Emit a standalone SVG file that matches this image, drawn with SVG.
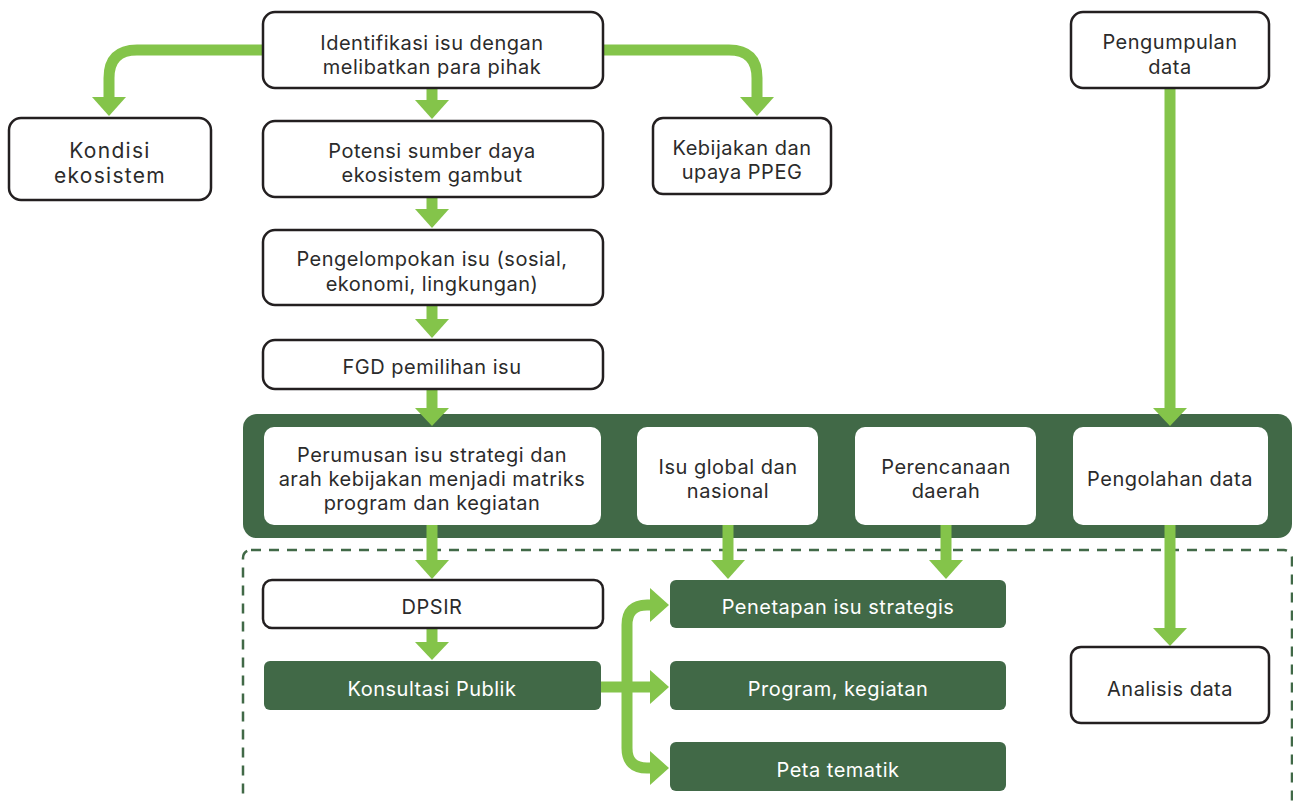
<svg xmlns="http://www.w3.org/2000/svg" width="1293" height="801" viewBox="0 0 1293 801">
<style>
.box{fill:#fff;stroke:#231f20;stroke-width:2.5}
.dk{fill:#416947}
.t{font-family:Inter,"Liberation Sans",sans-serif;font-size:20px;letter-spacing:0.5px;fill:#2b2b2b;text-anchor:middle}
.tk{font-family:Inter,"Liberation Sans",sans-serif;font-size:21px;letter-spacing:1.3px;fill:#2b2b2b;text-anchor:middle}
.tw{font-family:Inter,"Liberation Sans",sans-serif;font-size:20px;letter-spacing:0.5px;fill:#fff;text-anchor:middle}
.ln{fill:none;stroke:#84c44a;stroke-width:11}
.ah{fill:#84c44a}
</style>
<rect width="1293" height="801" fill="#fff"/>
<g id="band"><rect x="243" y="414" width="1049" height="124" rx="14" class="dk"/></g>
<g id="dashed"><rect x="243" y="550" width="1049" height="270" rx="8" fill="none" stroke="#416947" stroke-width="2.5" stroke-dasharray="10 8"/></g>
<g id="connectors">
<path class="ln" d="M263 50 H137 Q109 50 109 78 V98"/>
<polygon class="ah" points="92,97 126,97 109,116"/>
<path class="ln" d="M603 50 H729 Q757 50 757 78 V98"/>
<polygon class="ah" points="740,97 774,97 757,116"/>
<path class="ln" d="M432 88 V102"/>
<polygon class="ah" points="415,100 449,100 432,119"/>
<path class="ln" d="M432 197 V211"/>
<polygon class="ah" points="415,209 449,209 432,228"/>
<path class="ln" d="M432 305 V321"/>
<polygon class="ah" points="415,319 449,319 432,338"/>
<path class="ln" d="M432 389 V410"/>
<polygon class="ah" points="415,408 449,408 432,426"/>
<path class="ln" d="M432 525 V562"/>
<polygon class="ah" points="415,560 449,560 432,579"/>
<path class="ln" d="M432 628 V644"/>
<polygon class="ah" points="415,642 449,642 432,660"/>
<path class="ln" d="M728 525 V562"/>
<polygon class="ah" points="711,560 745,560 728,579"/>
<path class="ln" d="M946 525 V562"/>
<polygon class="ah" points="929,560 963,560 946,579"/>
<path class="ln" d="M1170 88 V410"/>
<polygon class="ah" points="1153,408 1187,408 1170,426"/>
<path class="ln" d="M1170 525 V630"/>
<polygon class="ah" points="1153,628 1187,628 1170,646"/>
<path class="ln" d="M601 687 H652"/>
<polygon class="ah" points="650,670 650,704 669,687"/>
<path class="ln" d="M652 605 H647 Q627 605 627 625 V748 Q627 768 647 768 H652"/>
<polygon class="ah" points="650,588 650,622 669,605"/>
<polygon class="ah" points="650,751 650,785 669,768"/>
</g>
<g id="n-identifikasi"><rect class="box" x="263" y="12" width="340" height="76" rx="12"/>
<text class="t" x="432" y="50">Identifikasi isu dengan</text><text class="t" x="432" y="74">melibatkan para pihak</text></g>
<g id="n-kondisi"><rect class="box" x="9" y="118" width="202" height="82" rx="12"/>
<text class="tk" x="110" y="158">Kondisi</text><text class="tk" x="110" y="183">ekosistem</text></g>
<g id="n-potensi"><rect class="box" x="263" y="121" width="340" height="76" rx="12"/>
<text class="t" x="432" y="158">Potensi sumber daya</text><text class="t" x="432" y="182">ekosistem gambut</text></g>
<g id="n-kebijakan"><rect class="box" x="653" y="118" width="178" height="76" rx="10"/>
<text class="t" x="742" y="155">Kebijakan dan</text><text class="t" x="742" y="179">upaya PPEG</text></g>
<g id="n-pengumpulan"><rect class="box" x="1071" y="12" width="198" height="76" rx="12"/>
<text class="t" x="1170" y="49">Pengumpulan</text><text class="t" x="1170" y="74">data</text></g>
<g id="n-pengelompokan"><rect class="box" x="263" y="230" width="340" height="75" rx="12"/>
<text class="t" x="432" y="266">Pengelompokan isu (sosial,</text><text class="t" x="432" y="291">ekonomi, lingkungan)</text></g>
<g id="n-fgd"><rect class="box" x="263" y="340" width="340" height="49" rx="12"/>
<text class="t" x="432" y="374">FGD pemilihan isu</text></g>
<g id="n-perumusan"><rect fill="#fff" x="264" y="427" width="337" height="98" rx="10"/>
<text class="t" x="432" y="462">Perumusan isu strategi dan</text><text class="t" x="432" y="486">arah kebijakan menjadi matriks</text><text class="t" x="432" y="510">program dan kegiatan</text></g>
<g id="n-isuglobal"><rect fill="#fff" x="637" y="427" width="181" height="98" rx="10"/>
<text class="t" x="728" y="474">Isu global dan</text><text class="t" x="728" y="498">nasional</text></g>
<g id="n-perencanaan"><rect fill="#fff" x="855" y="427" width="181" height="98" rx="10"/>
<text class="t" x="946" y="474">Perencanaan</text><text class="t" x="946" y="498">daerah</text></g>
<g id="n-pengolahan"><rect fill="#fff" x="1073" y="427" width="195" height="98" rx="10"/>
<text class="t" x="1170" y="486">Pengolahan data</text></g>
<g id="n-dpsir"><rect class="box" x="263" y="580" width="340" height="48" rx="9"/>
<text class="t" x="432" y="614">DPSIR</text></g>
<g id="n-konsultasi"><rect class="dk" x="264" y="661" width="337" height="49" rx="6"/>
<text class="tw" x="432" y="696">Konsultasi Publik</text></g>
<g id="n-penetapan"><rect class="dk" x="670" y="580" width="336" height="48" rx="6"/>
<text class="tw" x="838" y="614">Penetapan isu strategis</text></g>
<g id="n-program"><rect class="dk" x="670" y="661" width="336" height="49" rx="6"/>
<text class="tw" x="838" y="696">Program, kegiatan</text></g>
<g id="n-peta"><rect class="dk" x="670" y="742" width="336" height="49" rx="6"/>
<text class="tw" x="838" y="777">Peta tematik</text></g>
<g id="n-analisis"><rect class="box" x="1071" y="647" width="198" height="76" rx="10"/>
<text class="t" x="1170" y="696">Analisis data</text></g>
</svg>
